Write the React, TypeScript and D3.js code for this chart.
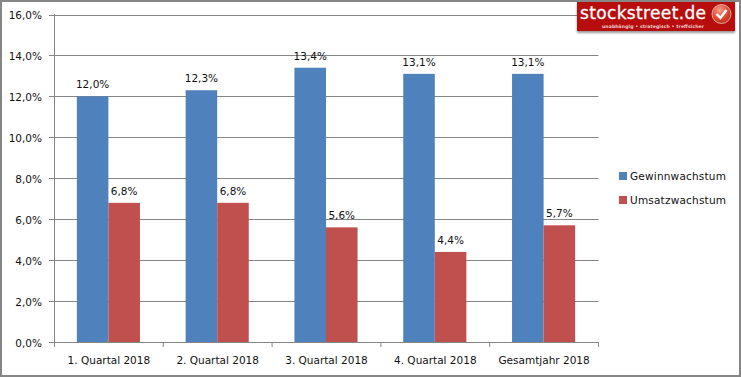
import React from "react";
import * as d3 from "d3";

const categories = ["1. Quartal 2018", "2. Quartal 2018", "3. Quartal 2018", "4. Quartal 2018", "Gesamtjahr 2018"];
const gewinn = [12.0, 12.3, 13.4, 13.1, 13.1];
const umsatz = [6.8, 6.8, 5.6, 4.4, 5.7];
const yTicks = [0, 2, 4, 6, 8, 10, 12, 14, 16];
const seriesNames = ["Gewinnwachstum", "Umsatzwachstum"];
const seriesColors = ["#4f81bd", "#c0504d"];

const W = 741, H = 377;
const font = "'DejaVu Sans', Verdana, sans-serif";
const fmt = (v: number) => v.toFixed(1).replace(".", ",") + "%";

export default function App() {
  const x = d3.scaleBand<string>().domain(categories).range([54.5, 598.5]).paddingInner(0).paddingOuter(0);
  const y = d3.scaleLinear().domain([0, 16]).range([342, 14.5]);
  const groupWidth = x.bandwidth() * 0.58;
  const inner = d3.scaleBand<string>().domain(seriesNames).range([0, groupWidth]);
  const offset = (x.bandwidth() - groupWidth) / 2 - 0.5;
  const series = [gewinn, umsatz];
  const grey = "#868686";
  return (
    <svg width={W} height={H} style={{ position: "fixed", left: 0, top: 0, background: "#fff" }} fontFamily={font}>
      <rect x={1} y={1} width={W - 2} height={H - 2} fill="#fff" stroke={grey} strokeWidth={2} />
      {yTicks.map((t) => (
        <g key={t}>
          <line x1={49} x2={598.5} y1={Math.round(y(t)) + 0.5} y2={Math.round(y(t)) + 0.5} stroke={grey} />
          <text x={42} y={y(t) + 4.5} textAnchor="end" fontSize={10.5} fill="#111">{fmt(t)}</text>
        </g>
      ))}
      <line x1={54.5} x2={54.5} y1={14} y2={347} stroke={grey} />
      {categories.map((c, i) => (
        <g key={c}>
          <line x1={x(c)! + x.bandwidth()} x2={x(c)! + x.bandwidth()} y1={342} y2={347} stroke={grey} />
          <text x={x(c)! + x.bandwidth() / 2} y={364} textAnchor="middle" fontSize={10.5} fill="#111">{c}</text>
          {series.map((s, k) => (
            <g key={k}>
              <rect x={x(c)! + offset + inner(seriesNames[k])!} y={y(s[i])} width={inner.bandwidth()} height={y(0) - y(s[i])} fill={seriesColors[k]} />
              <text x={x(c)! + offset + inner(seriesNames[k])! + inner.bandwidth() / 2} y={y(s[i]) - 8} textAnchor="middle" fontSize={10.5} fill="#111">{fmt(s[i])}</text>
            </g>
          ))}
        </g>
      ))}
      {seriesNames.map((n, k) => (
        <g key={n}>
          <rect x={619} y={172 + k * 24} width={8} height={8} fill={seriesColors[k]} />
          <text x={630} y={180 + k * 24} fontSize={10.5} letterSpacing={0.2} fill="#111">{n}</text>
        </g>
      ))}
      <defs>
        <filter id="sh" x="-5%" y="-10%" width="110%" height="140%">
          <feDropShadow dx={0} dy={2} stdDeviation={1.2} floodColor="#000" floodOpacity={0.4} />
        </filter>
        <radialGradient id="ball" cx="40%" cy="30%" r="75%">
          <stop offset="0%" stopColor="#f6a08e" />
          <stop offset="60%" stopColor="#dc4a32" />
          <stop offset="100%" stopColor="#b92a1c" />
        </radialGradient>
      </defs>
      <rect x={577} y={2} width={158} height={29} fill="#b70c0e" filter="url(#sh)" />
      <text x={580} y={19} fontSize={17} fill="#fff" stroke="#fff" strokeWidth={0.3} textLength={126} lengthAdjust="spacing">stockstreet.de</text>
      <text x={653} y={27.5} textAnchor="middle" fontSize={4.6} fontWeight={700} fill="#f0d0d0" textLength={102} lengthAdjust="spacing">unabhängig • strategisch • treffsicher</text>
      <circle cx={721.5} cy={14} r={9.5} fill="url(#ball)" stroke="#e9c9c0" strokeWidth={0.8} />
      <path d="M716.5,14 L720.5,18 L726.5,10" fill="none" stroke="#fff" strokeWidth={2.4} />
    </svg>
  );
}
